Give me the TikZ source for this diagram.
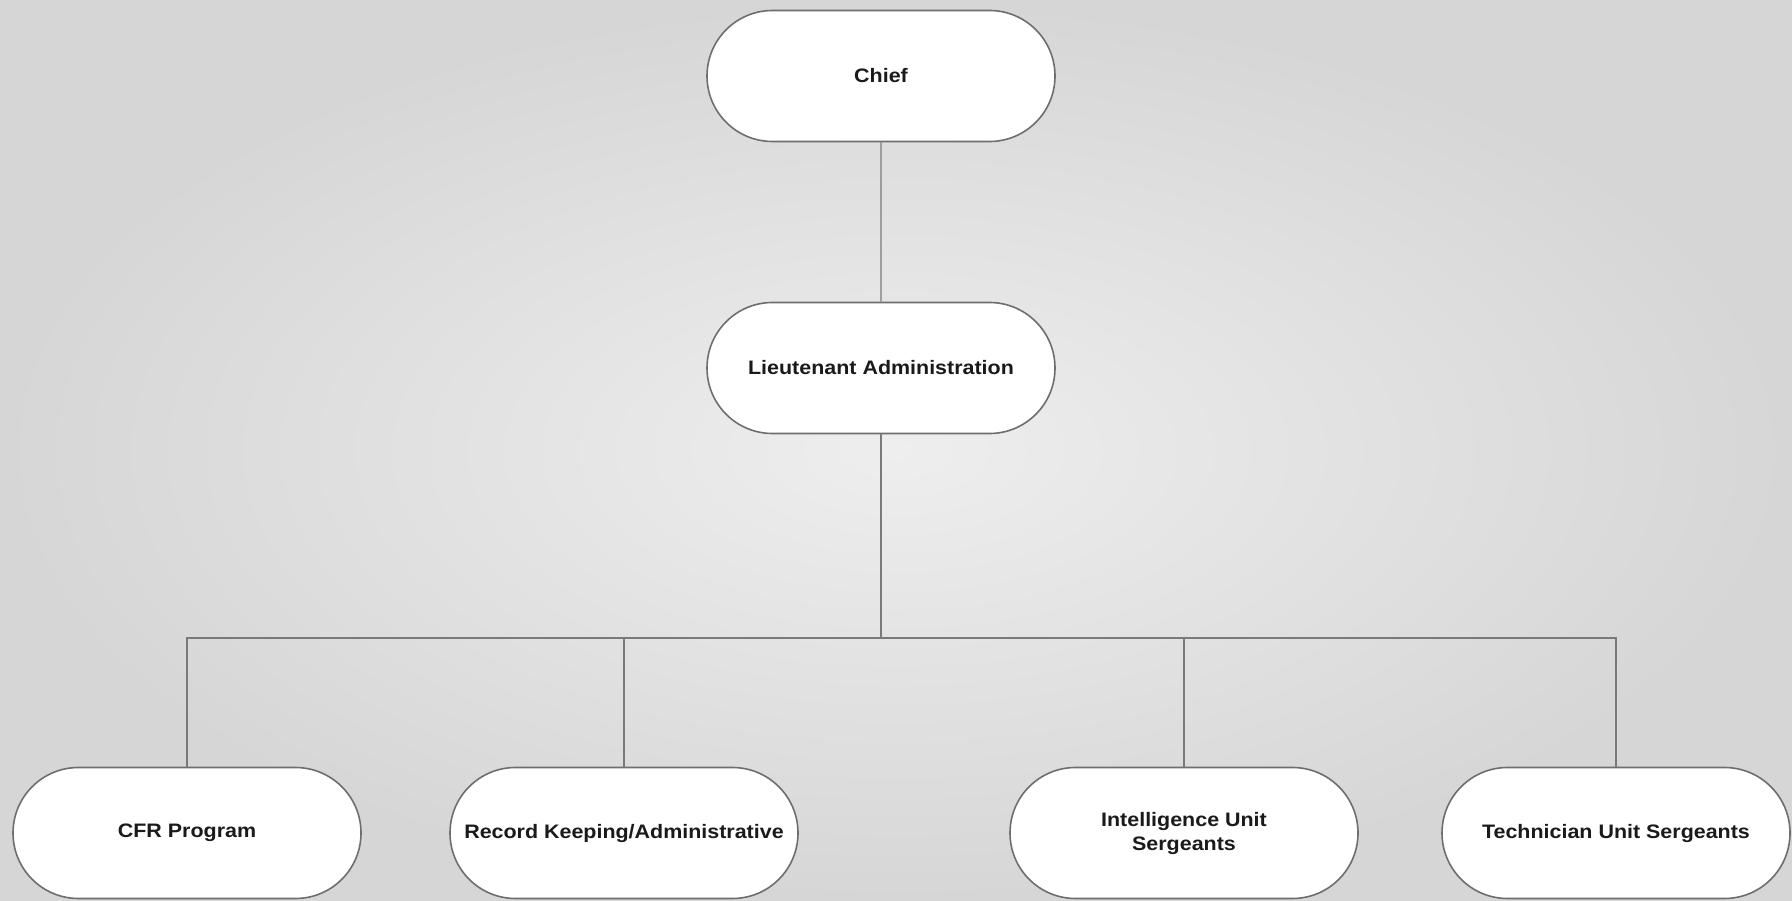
\documentclass[tikz,border=0pt]{standalone}
\usepackage{fontspec}
\setmainfont{Liberation Sans}
\newfontfamily\orgfont[FakeStretch=1.1]{Liberation Sans}
\usetikzlibrary{shapes.misc}
\definecolor{bgedge}{HTML}{D6D6D6}
\definecolor{bgmid}{HTML}{EEEEEE}
\definecolor{boxline}{HTML}{6E6E6E}
\definecolor{conline}{HTML}{7A7A7A}
\definecolor{txt}{HTML}{1A1A1A}
\tikzset{
  orgbox/.style={rounded rectangle, draw=boxline, line width=1.6pt, fill=white,
    minimum width=348pt, minimum height=131pt, inner sep=0pt,
    align=center, text=txt, font=\orgfont\bfseries\fontsize{19.5}{24}\selectfont},
  conn/.style={draw=conline, line width=1.3pt}
}
\begin{document}
\begin{tikzpicture}[x=1pt,y=-1pt]
\useasboundingbox (0,0) rectangle (1792,901);
\shade[inner color=bgmid, outer color=bgedge] (0,0) rectangle (1792,901);
\node[orgbox] (chief) at (881,76) {Chief};
\node[orgbox] (lt) at (881,368) {Lieutenant Administration};
\node[orgbox] (cfr) at (187,833) {CFR Program};
\node[orgbox] (rec) at (624,833) {Record Keeping/Administrative};
\node[orgbox] (intel) at (1184,833) {Intelligence Unit\\Sergeants};
\node[orgbox] (tech) at (1616,833) {Technician Unit Sergeants};
\coordinate (bar) at (881,638);
\draw[conn] (chief) -- (lt);
\draw[conn] (lt) -- (bar);
\draw[conn] (cfr.north) -- (cfr.north |- bar) -- (tech.north |- bar) -- (tech.north);
\draw[conn] (rec.north) -- (rec.north |- bar);
\draw[conn] (intel.north) -- (intel.north |- bar);
\end{tikzpicture}
\end{document}
